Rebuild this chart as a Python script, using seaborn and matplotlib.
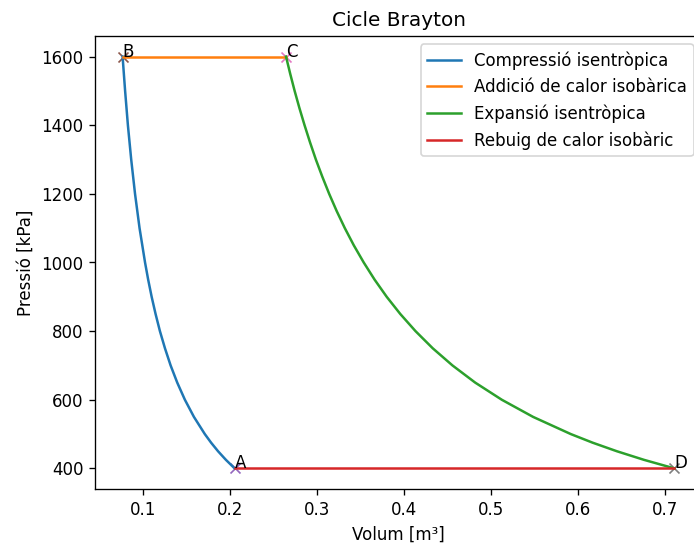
import numpy as np
import pandas as pd
import matplotlib
matplotlib.use("Agg")
import matplotlib.pyplot as plt
import seaborn as sns

# cycle states (volume m3, pressure kPa)
state_names = ["A", "B", "C", "D"]
state_v = [0.205, 0.0762, 0.264, 0.7103]
state_p = [400, 1600, 1600, 400]

# compression A -> B
comp_v = [0.2050, 0.1949, 0.1859, 0.1779, 0.1707, 0.1582, 0.1478, 0.1390,
          0.1314, 0.1249, 0.1191, 0.1141, 0.1096, 0.1056, 0.1020, 0.0957,
          0.0905, 0.0861, 0.0823, 0.0791, 0.0762]
comp_p = [400, 425, 450, 475, 500, 550, 600, 650,
          700, 750, 800, 850, 900, 950, 1000, 1100,
          1200, 1300, 1400, 1500, 1600]

# expansion C -> D
exp_v = [0.2640, 0.2688, 0.2739, 0.2794, 0.2853, 0.2916, 0.2983, 0.3057,
         0.3136, 0.3222, 0.3316, 0.3419, 0.3533, 0.3658, 0.3797, 0.3953,
         0.4128, 0.4326, 0.4553, 0.4814, 0.5120, 0.5480, 0.5913, 0.6163,
         0.6442, 0.6753, 0.7103]
exp_p = [1600, 1550, 1500, 1450, 1400, 1350, 1300, 1250,
         1200, 1150, 1100, 1050, 1000, 950, 900, 850,
         800, 750, 700, 650, 600, 550, 500, 475,
         450, 425, 400]

# isobaric lines
heat_v = [0.0762, 0.264]
heat_p = [1600, 1600]
rej_v = [0.7103, 0.205]
rej_p = [400, 400]

labels = ["Compressió isentròpica", "Addició de calor isobàrica",
          "Expansió isentròpica", "Rebuig de calor isobàric"]

fig = plt.figure(figsize=(694/120, 547/120), dpi=120)
ax = fig.add_axes([95/694, 58/547, 607/694, 453/547])

pal = sns.color_palette("tab10")
segs = [(comp_v, comp_p), (heat_v, heat_p), (exp_v, exp_p), (rej_v, rej_p)]
for i, (v, p) in enumerate(segs):
    sns.lineplot(x=v, y=p, sort=False, color=pal[i], label=labels[i], ax=ax)

for i, name in enumerate(state_names):
    sns.scatterplot(x=[state_v[i]], y=[state_p[i]], marker="x", color=pal[4 + i],
                    s=36, linewidth=1, legend=False, ax=ax)
    ax.text(state_v[i], state_p[i], name)

ax.set_title("Cicle Brayton")
ax.set_xlabel("Volum [m³]")
ax.set_ylabel("Pressió [kPa]")
ax.legend(loc="upper right")

fig.savefig("out.png", dpi=120)
